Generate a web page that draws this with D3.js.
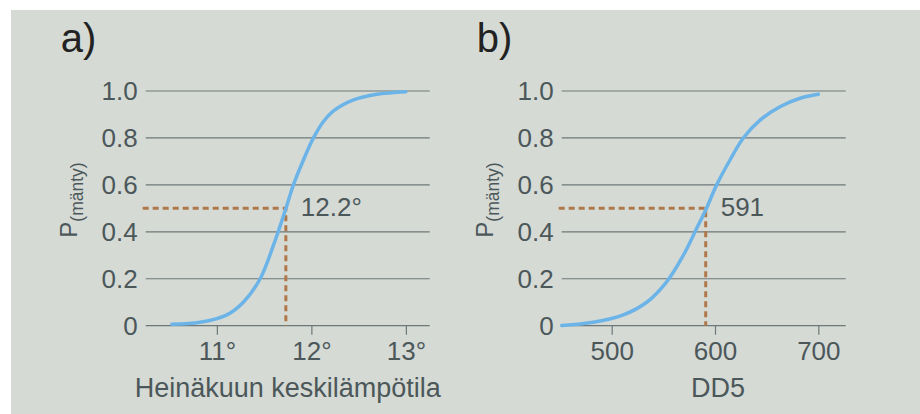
<!DOCTYPE html>
<html>
<head>
<meta charset="utf-8">
<script src="https://cdn.jsdelivr.net/npm/d3@7"></script>
<style>
  body { margin: 0; background: #ffffff; }
  svg { display: block; font-family: "Liberation Sans", Arial, sans-serif; }
</style>
</head>
<body>
<div id="wrapper"></div>
<script>
// panel a: July mean temperature vs probability
const tempValues = [10.524, 10.823, 11.106, 11.28, 11.458, 11.6, 11.733, 11.81, 11.916, 12.022, 12.128, 12.234, 12.446, 12.693, 13.0];
const tempProb   = [0.006, 0.0145, 0.046, 0.1, 0.2, 0.344, 0.503, 0.6, 0.706, 0.8, 0.87, 0.915, 0.962, 0.986, 0.997];
const tempTicks  = [11, 12, 13];
const tempMarker = 11.73;
const tempMarkerLabel = "12.2°";

// panel b: DD5 vs probability
const ddValues = [451.6, 482.2, 511.2, 533.9, 553.2, 569.3, 582.3, 592, 601.6, 614.5, 627.4, 643.6, 662.9, 682.3, 700];
const ddProb   = [0.001, 0.0145, 0.046, 0.1, 0.187, 0.3, 0.415, 0.503, 0.6, 0.706, 0.8, 0.876, 0.933, 0.969, 0.986];
const ddTicks  = [500, 600, 700];
const ddMarker = 591;
const ddMarkerLabel = "591";

const probTicks = [0, 0.2, 0.4, 0.6, 0.8, 1.0];

const textColor = "#4c575a";
const gridColor = "#6e7879";
const lineColor = "#6cb4e8";
const dashColor = "#b0784a";

const wrapper = d3.select("#wrapper")
    .append("svg")
    .attr("width", 920)
    .attr("height", 414);

// background panel
wrapper.append("rect")
    .attr("x", 11)
    .attr("y", 10)
    .attr("width", 909)
    .attr("height", 404)
    .attr("fill", "#d5dad5");

function drawPanel(opts) {
    const dimensions = {
        left: opts.left,
        width: 284,
        top: 91,
        height: 234.7,
    };

    const xScale = d3.scaleLinear()
        .domain(opts.domain)
        .range([dimensions.left, dimensions.left + dimensions.width]);

    const yScale = d3.scaleLinear()
        .domain([0, 1])
        .range([dimensions.top + dimensions.height, dimensions.top]);

    const g = wrapper.append("g");

    // panel letter
    g.append("text")
        .attr("x", dimensions.left - 85)
        .attr("y", 52)
        .attr("fill", "#222")
        .style("font-size", "40px")
        .text(opts.letter);

    // horizontal gridlines
    g.selectAll(".grid")
        .data(probTicks)
        .enter()
        .append("line")
        .attr("x1", xScale.range()[0])
        .attr("x2", xScale.range()[1])
        .attr("y1", d => yScale(d))
        .attr("y2", d => yScale(d))
        .attr("stroke", gridColor)
        .attr("stroke-width", 1.2);

    // y tick labels
    g.selectAll(".ylab")
        .data(probTicks)
        .enter()
        .append("text")
        .attr("x", dimensions.left - 8)
        .attr("y", d => yScale(d))
        .attr("dy", "0.36em")
        .attr("text-anchor", "end")
        .attr("fill", textColor)
        .style("font-size", "26px")
        .text(d => d === 0 ? "0" : d.toFixed(1));

    // x axis ticks
    const xAxisGenerator = d3.axisBottom(xScale)
        .tickValues(opts.ticks)
        .tickSize(9)
        .tickSizeOuter(0)
        .tickFormat(opts.format);

    const xAxis = g.append("g")
        .attr("transform", `translate(0, ${yScale(0)})`)
        .call(xAxisGenerator);

    xAxis.select(".domain").remove();
    xAxis.selectAll(".tick line")
        .attr("stroke", gridColor)
        .attr("stroke-width", 1.2);
    xAxis.selectAll(".tick text")
        .attr("y", 34)
        .attr("dy", 0)
        .attr("fill", textColor)
        .style("font-family", "'Liberation Sans', Arial, sans-serif")
        .style("font-size", "26px");

    // x axis title
    g.append("text")
        .attr("x", xScale(opts.titleAt))
        .attr("y", 397)
        .attr("text-anchor", "middle")
        .attr("fill", textColor)
        .style("font-size", "27px")
        .text(opts.title);

    // y axis title
    const yLabel = g.append("text")
        .attr("transform", `translate(${dimensions.left - 69}, 200) rotate(-90)`)
        .attr("text-anchor", "middle")
        .attr("fill", textColor);
    yLabel.append("tspan")
        .style("font-size", "24px")
        .text("P");
    yLabel.append("tspan")
        .attr("dy", 6)
        .style("font-size", "17.5px")
        .text("(mänty)");

    // dashed marker lines
    g.append("path")
        .attr("d", `M${xScale.range()[0] - 3},${yScale(0.5)}H${xScale(opts.marker)}V${yScale(0)}`)
        .attr("fill", "none")
        .attr("stroke", dashColor)
        .attr("stroke-width", 3)
        .attr("stroke-dasharray", "6,4");

    // curve
    const dataset = opts.xs.map((x, i) => ({ x: x, p: opts.ps[i] }));
    const lineGenerator = d3.line()
        .x(d => xScale(d.x))
        .y(d => yScale(d.p))
        .curve(d3.curveCatmullRom.alpha(0.5));

    g.append("path")
        .attr("d", lineGenerator(dataset))
        .attr("fill", "none")
        .attr("stroke", lineColor)
        .attr("stroke-width", 3.5)
        .attr("stroke-linecap", "round");

    // marker label
    g.append("text")
        .attr("x", xScale(opts.marker) + 15)
        .attr("y", yScale(0.5) + 8)
        .attr("fill", textColor)
        .style("font-size", "26px")
        .text(opts.markerLabel);
}

drawPanel({
    letter: "a)",
    left: 145.7,
    domain: [10.247, 13.252],
    xs: tempValues,
    ps: tempProb,
    ticks: tempTicks,
    format: d => d + "°",
    marker: tempMarker,
    markerLabel: tempMarkerLabel,
    title: "Heinäkuun keskilämpötila",
    titleAt: 11.75,
});

drawPanel({
    letter: "b)",
    left: 561.7,
    domain: [451.6, 726.5],
    xs: ddValues,
    ps: ddProb,
    ticks: ddTicks,
    format: d => d,
    marker: ddMarker,
    markerLabel: ddMarkerLabel,
    title: "DD5",
    titleAt: 603,
});
</script>
</body>
</html>
